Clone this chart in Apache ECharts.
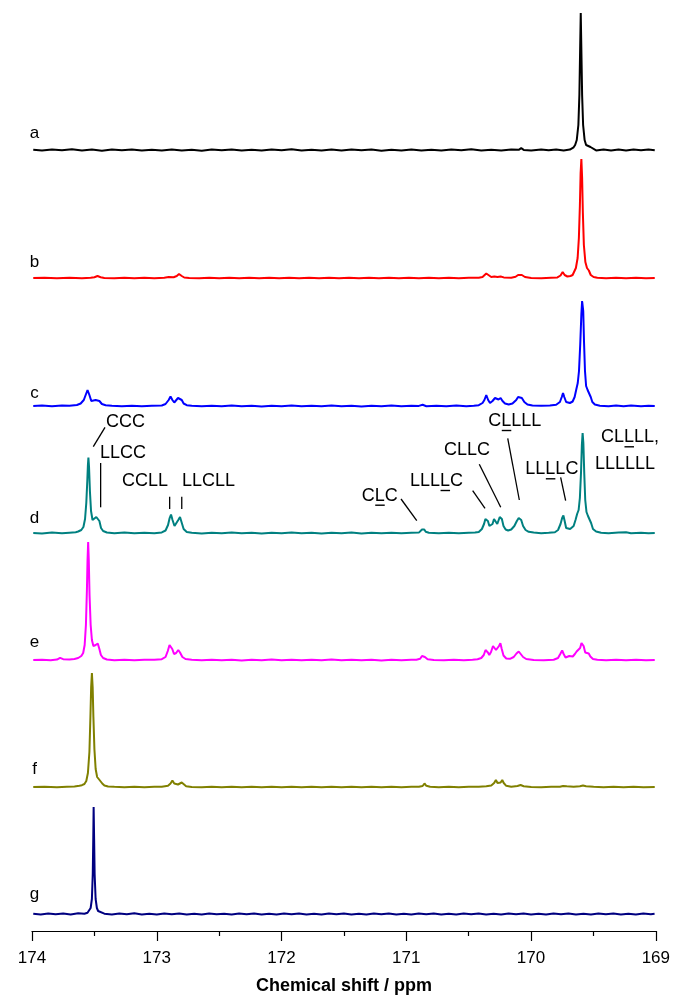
<!DOCTYPE html>
<html><head><meta charset="utf-8">
<script src="https://cdn.jsdelivr.net/npm/echarts@6/dist/echarts.min.js"></script>
<style>html,body{margin:0;padding:0;background:#fff}#c{width:673px;height:998px}</style>
</head><body><div id="c"></div>
<script>
// ---------- DATA ----------
const xTickValues = [174, 173, 172, 171, 170, 169];
const axisTitle = 'Chemical shift / ppm';
const spectrumNames = ['a', 'b', 'c', 'd', 'e', 'f', 'g'];

// each spectrum: [chemical shift (ppm), intensity]
const specA = [[173.99,0.2],[173.92,-0.6],[173.84,0.5],[173.76,-0.3],[173.68,0.7],[173.6,-0.5],[173.52,0.4],[173.44,-0.7],[173.36,0.6],[173.28,-0.2],[173.2,0.5],[173.12,-0.6],[173.04,0.3],[172.96,-0.5],[172.88,0.6],[172.8,-0.4],[172.72,0.2],[172.64,-0.7],[172.56,0.5],[172.48,-0.3],[172.4,0.6],[172.32,-0.5],[172.24,0.3],[172.16,-0.6],[172.08,0.5],[172.0,-0.2],[171.92,0.7],[171.84,-0.5],[171.76,0.3],[171.68,-0.6],[171.6,0.4],[171.52,-0.4],[171.44,0.6],[171.36,-0.3],[171.28,0.5],[171.2,-0.7],[171.12,0.3],[171.04,-0.4],[170.96,0.6],[170.88,-0.5],[170.8,0.2],[170.72,-0.6],[170.64,0.5],[170.56,-0.3],[170.48,0.7],[170.4,-0.4],[170.32,0.3],[170.24,-0.6],[170.16,0.4],[170.1,0.2],[170.08,1.8],[170.06,0.1],[170.0,-0.5],[169.92,0.6],[169.86,-0.3],[169.8,0.5],[169.74,-0.4],[169.69,0.4],[169.66,2.7],[169.648,5],[169.635,10],[169.622,25],[169.614,55],[169.608,100],[169.603,137],[169.598,100],[169.592,55],[169.584,25],[169.572,10],[169.56,5],[169.545,3.5],[169.525,3],[169.51,1.5],[169.48,-0.4],[169.42,0.6],[169.36,-0.5],[169.3,0.4],[169.24,-0.6],[169.18,0.5],[169.12,-0.3],[169.06,0.6],[169.01,-0.2]];

const specB = [[173.99,0],[173.9,0.3],[173.8,-0.2],[173.7,0.3],[173.6,-0.2],[173.53,0.3],[173.5,0.8],[173.475,2],[173.45,0.8],[173.42,0.1],[173.34,-0.2],[173.26,0.2],[173.18,-0.3],[173.1,0.2],[173.02,-0.2],[172.94,0.3],[172.905,0.9],[172.89,1.5],[172.865,0.8],[172.84,2],[172.822,4],[172.8,2],[172.78,0.5],[172.74,0.1],[172.66,-0.3],[172.58,0.2],[172.5,-0.2],[172.42,0.3],[172.34,-0.3],[172.26,0.2],[172.18,-0.2],[172.1,0.3],[172.02,-0.2],[171.94,0.2],[171.86,-0.3],[171.78,0.2],[171.7,-0.2],[171.62,0.3],[171.54,-0.2],[171.46,0.2],[171.38,-0.3],[171.3,0.2],[171.22,-0.2],[171.14,0.3],[171.06,-0.2],[170.98,0.2],[170.9,-0.2],[170.82,0.3],[170.74,-0.2],[170.66,0.2],[170.58,-0.3],[170.5,0.2],[170.42,0.3],[170.39,1],[170.375,2.5],[170.36,4.5],[170.345,2.5],[170.32,1],[170.295,1.5],[170.27,1],[170.245,1.5],[170.22,0.6],[170.16,0.3],[170.125,1.2],[170.105,3],[170.09,5],[170.075,3],[170.05,1],[170.0,0.1],[169.92,-0.2],[169.84,0.3],[169.79,0.6],[169.765,2.5],[169.748,6],[169.732,3],[169.71,1.5],[169.685,2],[169.668,3],[169.655,4],[169.642,10],[169.628,20],[169.618,40],[169.61,72],[169.604,105],[169.598,119],[169.592,100],[169.586,65],[169.578,33],[169.566,16],[169.553,10],[169.538,7.5],[169.523,3],[169.5,1],[169.47,0.3],[169.4,-0.2],[169.32,0.3],[169.24,-0.2],[169.16,0.2],[169.08,-0.2],[169.01,0]];

const specC = [[173.99,0],[173.92,0.4],[173.84,-0.3],[173.76,0.5],[173.7,0.3],[173.64,1],[173.61,2.5],[173.585,6],[173.57,11],[173.555,16],[173.54,11],[173.525,5],[173.51,4],[173.49,6],[173.475,7.5],[173.46,5],[173.44,2],[173.41,0.8],[173.36,0.2],[173.28,-0.3],[173.2,0.3],[173.12,-0.2],[173.04,0.3],[172.96,0.5],[172.93,2],[172.905,6],[172.89,9.5],[172.875,6],[172.86,3.5],[172.85,4],[172.83,8],[172.815,9.5],[172.8,6],[172.785,2.5],[172.76,0.8],[172.72,0.2],[172.64,-0.3],[172.56,0.3],[172.48,-0.2],[172.4,0.4],[172.32,-0.3],[172.24,0.2],[172.16,-0.4],[172.08,0.3],[172.0,-0.2],[171.92,0.4],[171.84,-0.3],[171.76,0.2],[171.68,-0.3],[171.6,0.4],[171.52,-0.2],[171.44,0.3],[171.36,-0.4],[171.28,0.2],[171.2,-0.2],[171.12,0.6],[171.04,-0.2],[170.96,0.3],[170.9,0.1],[170.87,1.2],[170.84,-0.2],[170.76,0.2],[170.68,-0.3],[170.6,0.4],[170.52,-0.2],[170.46,0.3],[170.42,0.8],[170.39,3],[170.375,6],[170.36,11],[170.345,6],[170.33,3],[170.31,5],[170.29,8],[170.275,6],[170.262,6.5],[170.245,8],[170.23,5],[170.21,2.5],[170.18,1.5],[170.15,2.5],[170.12,6],[170.105,9],[170.09,11],[170.075,8],[170.055,4],[170.03,1.5],[169.99,0.5],[169.92,0.2],[169.85,0.5],[169.8,1.2],[169.77,4],[169.755,9],[169.745,13],[169.735,9],[169.72,4],[169.705,3],[169.69,3],[169.68,3.5],[169.668,4.5],[169.652,9],[169.638,17],[169.627,23],[169.617,35],[169.607,62],[169.598,92],[169.592,105],[169.588,107],[169.583,95],[169.577,65],[169.569,35],[169.56,20],[169.548,16],[169.535,16],[169.523,9],[169.51,4],[169.49,1.5],[169.45,0.3],[169.38,-0.2],[169.32,0.5],[169.26,-0.2],[169.2,0.4],[169.12,-0.2],[169.06,0.3],[169.01,0]];

const specD = [[173.99,0],[173.92,-0.4],[173.84,0.4],[173.76,-0.3],[173.7,0.3],[173.65,0.8],[173.63,1.5],[173.605,3],[173.588,6],[173.575,14],[173.565,30],[173.557,52],[173.552,68],[173.548,75.5],[173.543,66],[173.536,42],[173.527,22],[173.515,13],[173.5,12],[173.485,16],[173.472,18],[173.46,12],[173.447,5],[173.43,2],[173.4,0.5],[173.34,-0.3],[173.26,0.4],[173.18,-0.3],[173.1,0.3],[173.02,-0.2],[172.96,0.6],[172.93,2.5],[172.91,8],[172.897,15],[172.886,18.5],[172.874,13],[172.858,7],[172.843,8],[172.828,13],[172.814,16],[172.802,11],[172.785,4],[172.76,1],[172.72,0.2],[172.64,-0.4],[172.56,0.3],[172.48,-0.3],[172.4,0.4],[172.32,-0.2],[172.24,0.3],[172.16,-0.4],[172.08,0.2],[172.0,-0.3],[171.92,0.4],[171.84,-0.2],[171.76,0.3],[171.68,-0.4],[171.6,0.2],[171.52,-0.3],[171.44,0.4],[171.36,-0.5],[171.28,0.2],[171.2,-0.3],[171.12,0.3],[171.04,-0.2],[170.96,0.2],[170.9,0.4],[170.885,1.5],[170.875,3.5],[170.866,5.5],[170.857,3.5],[170.845,1.2],[170.82,0.2],[170.74,-0.3],[170.66,0.3],[170.58,-0.3],[170.5,0.2],[170.45,0.4],[170.42,1],[170.395,4],[170.378,9],[170.367,14],[170.357,15.5],[170.347,12],[170.335,7],[170.322,6],[170.31,9],[170.298,14],[170.29,15.5],[170.282,12],[170.272,9],[170.262,11],[170.252,16],[170.243,18],[170.235,14],[170.222,7],[170.205,3.5],[170.185,2.5],[170.16,3.5],[170.135,7],[170.115,12],[170.1,15],[170.09,15.5],[170.08,13],[170.065,7],[170.045,3],[170.02,1.2],[169.98,0.4],[169.92,-0.2],[169.86,0.3],[169.81,0.8],[169.785,3],[169.765,9],[169.752,15],[169.742,17.5],[169.732,12],[169.72,5],[169.705,3],[169.688,4],[169.675,3.5],[169.66,7],[169.645,13],[169.632,19],[169.62,23],[169.61,35],[169.601,60],[169.594,88],[169.588,100],[169.582,90],[169.575,60],[169.567,33],[169.557,21],[169.545,17],[169.532,17],[169.52,10],[169.505,4],[169.48,1.5],[169.44,0.3],[169.38,-0.3],[169.3,0.4],[169.24,0.8],[169.2,-0.2],[169.12,0.3],[169.06,-0.2],[169.01,0]];

const specE = [[173.99,0],[173.92,0.3],[173.85,-0.3],[173.8,0.4],[173.775,2.2],[173.75,0.8],[173.7,0.5],[173.66,1],[173.63,2],[173.605,4],[173.59,7],[173.578,15],[173.568,35],[173.56,70],[173.555,100],[173.55,118],[173.545,100],[173.539,65],[173.53,35],[173.52,20],[173.508,14],[173.49,15],[173.473,16.5],[173.46,11],[173.448,5],[173.43,2],[173.4,0.5],[173.34,-0.2],[173.26,0.3],[173.18,-0.3],[173.1,0.2],[173.02,0.3],[172.96,0.8],[172.93,3],[172.912,9],[172.898,15],[172.888,17],[172.876,11],[172.862,6],[172.845,7],[172.828,10],[172.814,7.5],[172.795,3],[172.77,1],[172.72,0.2],[172.64,-0.3],[172.56,0.3],[172.48,-0.2],[172.4,0.3],[172.32,-0.4],[172.24,0.2],[172.16,-0.2],[172.08,0.4],[172.0,-0.3],[171.92,0.2],[171.84,-0.3],[171.76,0.3],[171.68,-0.2],[171.6,0.4],[171.52,-0.3],[171.44,0.2],[171.36,-0.2],[171.28,0.3],[171.2,-0.4],[171.12,0.2],[171.04,-0.2],[170.96,0.3],[170.92,0.2],[170.89,1.2],[170.875,4],[170.865,5.5],[170.852,3],[170.83,0.8],[170.78,0.1],[170.7,-0.3],[170.62,0.3],[170.54,-0.2],[170.47,0.3],[170.43,0.8],[170.4,2],[170.38,5],[170.366,10],[170.357,10.5],[170.347,7.5],[170.336,5],[170.322,8],[170.306,14],[170.293,15.7],[170.282,10],[170.271,8.5],[170.258,14],[170.247,16.7],[170.236,11],[170.222,4.5],[170.2,1.5],[170.17,1.2],[170.14,3],[170.118,6.5],[170.1,8.5],[170.085,7],[170.065,3],[170.04,1],[169.98,0.1],[169.9,-0.2],[169.82,0.3],[169.785,2],[169.765,6.5],[169.752,9.5],[169.74,6],[169.725,2.5],[169.71,3],[169.695,4],[169.682,2.8],[169.667,3.5],[169.65,6],[169.636,8.5],[169.622,9],[169.608,12],[169.597,17],[169.589,18.5],[169.58,14],[169.567,7.5],[169.552,6],[169.539,6.5],[169.526,3.5],[169.505,1],[169.47,0.2],[169.4,-0.3],[169.32,0.2],[169.24,-0.3],[169.16,0.2],[169.08,-0.3],[169.01,-0.1]];

const specF = [[173.99,0],[173.9,0.3],[173.8,-0.2],[173.72,0.3],[173.66,0.6],[173.62,1.2],[173.6,1.8],[173.58,3],[173.565,6],[173.552,14],[173.54,35],[173.532,70],[173.526,100],[173.52,114],[173.514,100],[173.508,70],[173.5,38],[173.49,18],[173.478,10],[173.462,7.5],[173.45,7],[173.437,3.5],[173.42,1.5],[173.39,0.5],[173.34,0.2],[173.26,-0.2],[173.18,0.3],[173.1,-0.2],[173.02,0.2],[172.96,0.3],[172.91,1.2],[172.89,3.5],[172.875,6.5],[172.86,3.5],[172.845,2],[172.83,2.5],[172.815,3.5],[172.8,4.5],[172.785,2.5],[172.765,0.8],[172.72,0.1],[172.64,-0.2],[172.56,0.2],[172.48,-0.2],[172.4,0.3],[172.32,-0.2],[172.24,0.2],[172.16,-0.3],[172.08,0.2],[172.0,-0.2],[171.92,0.3],[171.84,-0.2],[171.76,0.2],[171.68,-0.3],[171.6,0.2],[171.52,-0.2],[171.44,0.3],[171.36,-0.2],[171.28,0.2],[171.2,-0.3],[171.12,0.2],[171.04,-0.2],[170.96,0.3],[170.9,0.2],[170.87,1],[170.855,3.5],[170.84,1.2],[170.81,0.2],[170.74,-0.2],[170.66,0.2],[170.58,-0.2],[170.5,0.3],[170.42,0.3],[170.36,0.8],[170.32,1.5],[170.297,4],[170.283,7],[170.27,4],[170.258,3],[170.245,4.5],[170.232,7],[170.22,4],[170.2,1.2],[170.16,0.3],[170.11,1],[170.085,2],[170.06,0.8],[170.0,0.1],[169.92,-0.2],[169.84,0.2],[169.77,0.3],[169.745,1],[169.73,1.5],[169.715,0.7],[169.66,0.2],[169.61,0.8],[169.585,1.5],[169.56,0.8],[169.5,0.2],[169.42,-0.2],[169.34,0.2],[169.26,-0.2],[169.18,0.2],[169.1,-0.2],[169.01,0]];

const specG = [[173.99,0.3],[173.93,-0.5],[173.87,0.6],[173.81,-0.3],[173.75,0.5],[173.69,-0.5],[173.63,0.7],[173.58,0.2],[173.555,1.2],[173.54,3],[173.53,6],[173.52,15],[173.513,40],[173.509,75],[173.506,107],[173.502,75],[173.498,40],[173.49,15],[173.48,6],[173.47,3],[173.455,1.2],[173.42,0.3],[173.36,-0.4],[173.3,0.6],[173.24,-0.3],[173.18,0.7],[173.12,-0.4],[173.06,0.3],[173.0,-0.5],[172.94,0.5],[172.88,-0.2],[172.82,0.4],[172.76,-0.5],[172.7,0.3],[172.64,-0.4],[172.58,0.5],[172.52,-0.3],[172.46,0.3],[172.4,-0.5],[172.34,0.4],[172.28,-0.3],[172.22,0.5],[172.16,-0.4],[172.1,0.2],[172.04,-0.5],[171.98,0.4],[171.92,-0.3],[171.86,0.5],[171.8,-0.4],[171.74,0.3],[171.68,-0.6],[171.62,0.4],[171.56,-0.2],[171.5,0.5],[171.44,-0.4],[171.38,0.3],[171.32,-0.5],[171.26,0.4],[171.2,-0.3],[171.14,0.5],[171.08,-0.4],[171.02,0.3],[170.96,-0.6],[170.9,0.4],[170.84,-0.3],[170.78,0.5],[170.72,-0.4],[170.66,0.3],[170.6,-0.5],[170.54,0.4],[170.48,-0.3],[170.42,0.5],[170.36,-0.4],[170.3,0.3],[170.24,-0.5],[170.18,0.4],[170.12,-0.3],[170.06,0.5],[170.0,-0.4],[169.94,0.3],[169.88,-0.5],[169.82,0.4],[169.76,-0.3],[169.7,0.5],[169.64,-0.4],[169.58,0.3],[169.52,-0.5],[169.46,0.4],[169.4,-0.3],[169.34,0.5],[169.28,-0.4],[169.22,0.3],[169.16,-0.5],[169.1,0.4],[169.04,-0.3],[169.01,0.2]];

// peak assignment labels (drawn over spectrum d)
const annotationTexts = ['CCC', 'LLCC', 'CCLL', 'LLCLL', 'CLC', 'LLLLC', 'CLLC', 'CLLLL', 'LLLLC', 'CLLLL,', 'LLLLLL'];
const annotationUnderlinedChar = [-1, -1, -1, -1, 1, 3, -1, 1, 2, 2, -1];

// ---------- LAYOUT / STYLE ----------
const FONT = 'Arial, "Liberation Sans", Helvetica, sans-serif';
const colors = ['#000000', '#ff0000', '#0000ff', '#008080', '#ff00ff', '#808000', '#000080'];
const baselines = [150, 278, 406, 533, 660, 787, 914];
const nameLift = [17, 16, 13, 15, 18, 18, 20];
// annotation placement in spectrum-d data coordinates: [textLeftPpm, textVal, line]
const annotationLayout = [
  [173.407, 111.3, [[173.415, 105.7], [173.509, 86.3]]],
  [173.455, 80.3, [[173.450, 70], [173.450, 25.7]]],
  [173.279, 52.3, [[172.897, 36.3], [172.897, 24]]],
  [172.798, 52.3, [[172.80, 36.3], [172.80, 24]]],
  [171.358, 37.3, [[171.043, 34], [170.917, 12.3]]],
  [170.971, 52, [[170.469, 42.3], [170.370, 24.7]]],
  [170.699, 83, [[170.416, 68.7], [170.244, 25.7]]],
  [170.344, 112, [[170.188, 94.7], [170.095, 33]]],
  [170.047, 63.7, [[169.764, 55.7], [169.724, 32.3]]],
  [169.441, 95.7, null],
  [169.489, 69, null]
];

const spectra = [specA, specB, specC, specD, specE, specF, specG];
const grids = [], xAxes = [], yAxes = [], series = [];
spectra.forEach((s, i) => {
  grids.push({ left: 32, right: 17, top: baselines[i] - 140, height: 157 });
  const last = i === spectra.length - 1;
  xAxes.push({
    type: 'value', gridIndex: i, min: 169, max: 174, interval: 1, inverse: true,
    show: last,
    axisLine: { show: true, onZero: false, lineStyle: { color: '#000', width: 1.2 } },
    axisTick: { show: true, inside: false, length: 10, lineStyle: { color: '#000', width: 1.2 } },
    minorTick: { show: true, splitNumber: 2, length: 5, lineStyle: { color: '#000', width: 1.2 } },
    splitLine: { show: false }, minorSplitLine: { show: false },
    axisLabel: { show: true, fontSize: 17, color: '#000', margin: 19, fontFamily: FONT,
      formatter: v => (xTickValues.indexOf(v) >= 0 ? String(v) : '') },
    name: last ? axisTitle : '', nameLocation: 'middle', nameGap: 46,
    nameTextStyle: { fontSize: 18, fontWeight: 'bold', color: '#000', fontFamily: FONT }
  });
  yAxes.push({ type: 'value', gridIndex: i, min: -17, max: 140, show: false, splitLine: { show: false } });
  series.push({
    type: 'line', name: spectrumNames[i], xAxisIndex: i, yAxisIndex: i, data: s,
    symbol: 'none', showSymbol: false, clip: false, silent: true,
    lineStyle: { color: colors[i], width: 2 }, z: 2
  });
});

const chart = echarts.init(document.getElementById('c'), null, { renderer: 'canvas' });
chart.setOption({
  animation: false, backgroundColor: '#fff',
  grid: grids, xAxis: xAxes, yAxis: yAxes, series: series
});

// text labels and annotations
const ctx = document.createElement('canvas').getContext('2d');
const annFont = '18px ' + FONT;
ctx.font = annFont;
const els = [];
spectrumNames.forEach((n, i) => {
  const p = chart.convertToPixel({ gridIndex: i }, [173.98, nameLift[i]]);
  els.push({ type: 'text', x: p[0], y: p[1], silent: true,
    style: { text: n, font: '17px ' + FONT, fill: '#000', textAlign: 'center', textVerticalAlign: 'middle' } });
});
annotationTexts.forEach((t, k) => {
  const lay = annotationLayout[k];
  const p = chart.convertToPixel({ gridIndex: 3 }, [lay[0], lay[1]]);
  els.push({ type: 'text', x: p[0], y: p[1], silent: true,
    style: { text: t, font: annFont, fill: '#000', textAlign: 'left', textVerticalAlign: 'middle' } });
  const u = annotationUnderlinedChar[k];
  if (u >= 0) {
    const x0 = p[0] + ctx.measureText(t.slice(0, u)).width;
    const x1 = p[0] + ctx.measureText(t.slice(0, u + 1)).width;
    els.push({ type: 'line', silent: true, shape: { x1: x0 + 0.5, y1: p[1] + 9.5, x2: x1, y2: p[1] + 9.5 },
      style: { stroke: '#000', lineWidth: 1.4 } });
  }
  if (lay[2]) {
    const a = chart.convertToPixel({ gridIndex: 3 }, lay[2][0]);
    const b = chart.convertToPixel({ gridIndex: 3 }, lay[2][1]);
    els.push({ type: 'line', silent: true, shape: { x1: a[0], y1: a[1], x2: b[0], y2: b[1] },
      style: { stroke: '#000', lineWidth: 1.3 } });
  }
});
chart.setOption({ graphic: els });
</script>
</body></html>
